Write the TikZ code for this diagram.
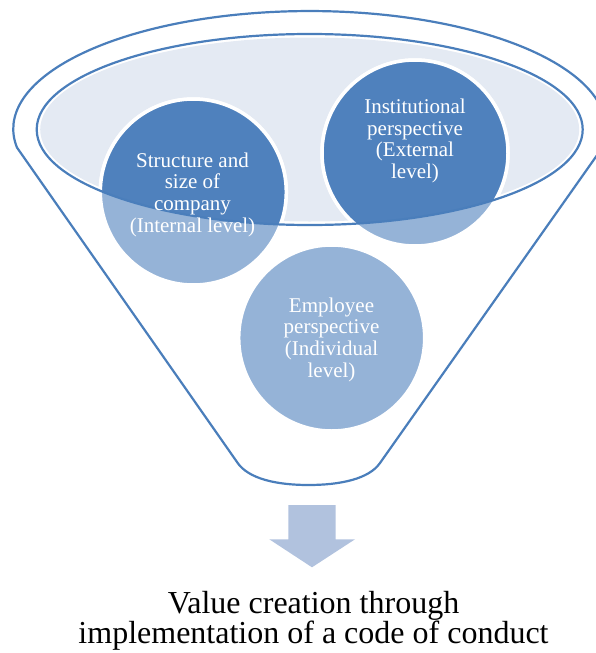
\documentclass[tikz,border=0pt]{standalone}
\usepackage{fontspec}
\setmainfont{Liberation Serif}
\definecolor{rim}{HTML}{4A7EBB}
\definecolor{darkfill}{HTML}{4F81BD}
\definecolor{lightfill}{HTML}{95B3D7}
\definecolor{mouth}{HTML}{E4EAF3}
\definecolor{arrowfill}{HTML}{B1C2DE}
\tikzset{
  rimline/.style={draw=rim, line width=2.2pt, line join=round},
  ball/.style={circle, minimum size=186pt, inner sep=0pt, fill=lightfill, draw=white, line width=3.5pt},
  balltext/.style={text=white, align=center, inner sep=0pt, anchor=north,
    font=\fontsize{21}{21.7}\selectfont},
  outcome/.style={text=black, align=center, inner sep=0pt, anchor=north,
    font=\fontsize{32}{29}\selectfont}
}
\begin{document}
\begin{tikzpicture}[x=1pt,y=-1pt]
\useasboundingbox (0,0) rectangle (596,653);
\clip (0,0) rectangle (596,653);

% funnel outline: top rim arc, sides and rounded spout
\draw[rimline] (237,462) -- (16.95,147.5)
  arc[start angle=189, end angle=-9, x radius=296.4pt, y radius=118pt]
  -- (380,463) .. controls (369,479) and (340,485) .. (308.5,485)
  .. controls (277,485) and (248,479) .. (237,462) -- cycle;

% mouth of the funnel, filled slightly inside its rim
\fill[mouth] (309.7,129.5) ellipse[x radius=269.5pt, y radius=92pt];

% the three perspectives
\node[ball] (internal) at (193.3,192) {};
\node[ball] (external) at (415,153) {};
\node[ball] (individual) at (331.7,338) {};

% the parts of the balls lying inside the mouth are darker
\begin{scope}
  \clip (309.7,129.5) ellipse[x radius=273pt, y radius=95.5pt];
  \foreach \b in {internal,external}
    \fill[darkfill, draw=white, line width=3.5pt] (\b.center) circle[radius=93pt];
\end{scope}

\draw[rimline] (309.7,129.5) ellipse[x radius=273pt, y radius=95.5pt];

\node[balltext] (internaltext) at (192.5,152.4) {Structure and\\size of\\company\\(Internal level)};
\node[balltext] (externaltext) at (415,98.7) {Institutional\\perspective\\(External\\level)};
\node[balltext] (individualtext) at (331.5,297.4) {Employee\\perspective\\(Individual\\level)};

% outcome arrow
\fill[arrowfill] (288.3,505) -- (335.7,505) -- (335.7,539.3) -- (355,539.3)
  -- (312,567.3) -- (269.3,539.3) -- (288.3,539.3) -- cycle;

\node[outcome] (result) at (313.5,591) {Value creation through\\implementation of a code of conduct};
\end{tikzpicture}
\end{document}
